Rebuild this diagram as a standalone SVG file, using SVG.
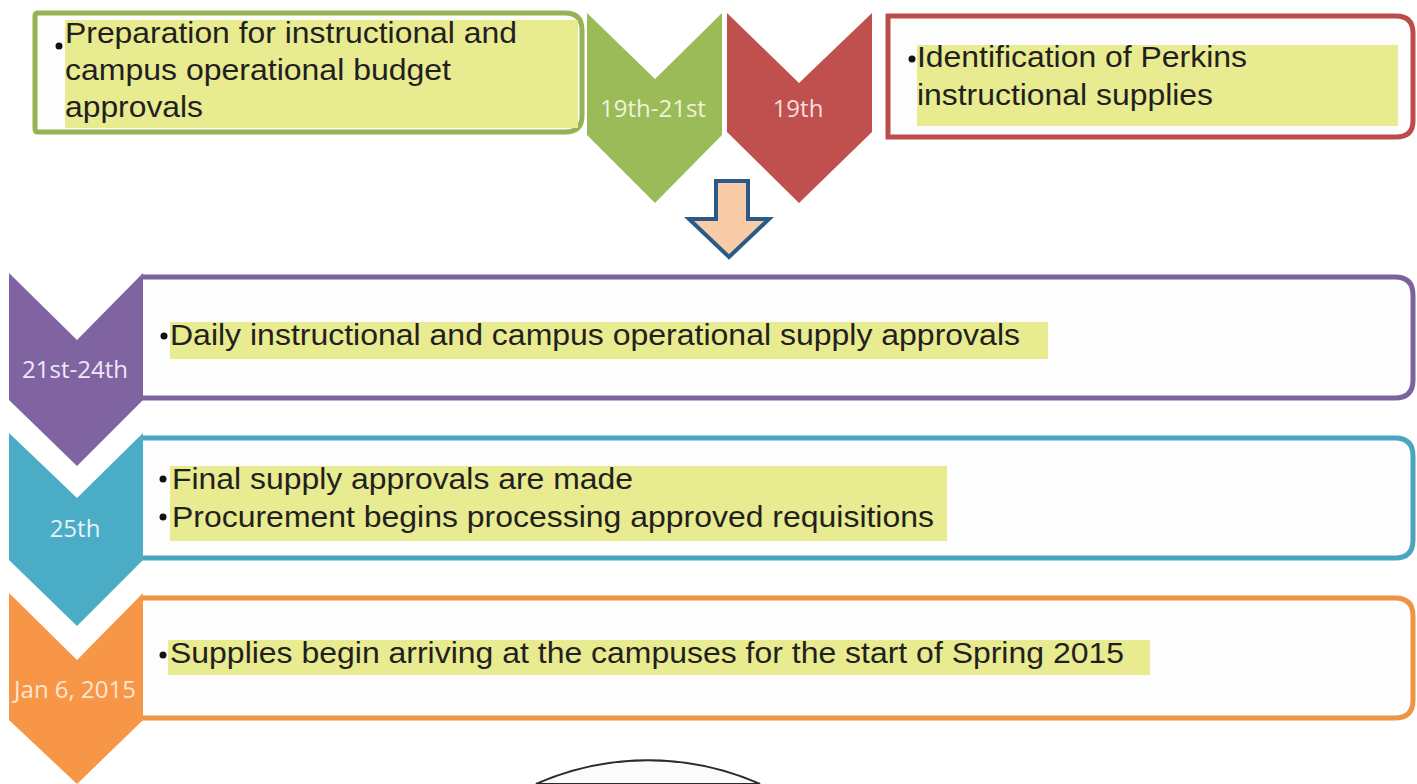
<svg xmlns="http://www.w3.org/2000/svg" width="1417" height="784" viewBox="0 0 1417 784">
<style>
.txt{font-family:"Liberation Sans",Arial,sans-serif;font-size:29px;fill:#231f20}
.lbl{font-family:"Open Sans","Liberation Sans",sans-serif;font-size:24px;text-anchor:middle}
.hl{fill:#e8eb8f}
.box{fill:#fefdfe;stroke-width:5}
.dot{fill:#111}
</style>
<rect width="1417" height="784" fill="#ffffff"/>
<g id="connectors">
<path d="M716 181 H748 V219 H769 L729 257 L689 219 H716 Z" fill="#f8cca6" stroke="#2b5988" stroke-width="4" stroke-linejoin="miter"/>
</g>
<g id="node-prep">
<path d="M38 13 H565 Q582 13 582 30 V116 Q582 132 565 132 H38 Q35 132 35 129 V16 Q35 13 38 13 Z" class="box" stroke="#95b355"/>
<rect x="65" y="20" width="513" height="108" class="hl"/>
<circle cx="59" cy="46" r="3.5" class="dot"/>
<text class="txt" x="65" y="43" textLength="452" lengthAdjust="spacingAndGlyphs">Preparation for instructional and</text>
<text class="txt" x="65" y="80" textLength="386" lengthAdjust="spacingAndGlyphs">campus operational budget</text>
<text class="txt" x="65" y="117" textLength="138" lengthAdjust="spacingAndGlyphs">approvals</text>
</g>
<g id="node-chev-green">
<polygon points="587,13 655,79 722,13 722,135 655,203 587,135" fill="#9bbb59"/>
<text class="lbl" x="653" y="117" fill="#eef3d8">19th-21st</text>
</g>
<g id="node-chev-red">
<polygon points="727,13 799,83 872,13 872,132 799,203 727,132" fill="#c0504d"/>
<text class="lbl" x="798" y="117" fill="#f5dfde">19th</text>
</g>
<g id="node-perkins">
<path d="M888 16 H1396 Q1413 16 1413 33 V121 Q1413 137 1396 137 H888 Z" class="box" stroke="#bb4c4a"/>
<rect x="917" y="45" width="481" height="81" class="hl"/>
<circle cx="912" cy="59" r="3.5" class="dot"/>
<text class="txt" x="917" y="67" textLength="330" lengthAdjust="spacingAndGlyphs">Identification of Perkins</text>
<text class="txt" x="917" y="105" textLength="296" lengthAdjust="spacingAndGlyphs">instructional supplies</text>
</g>
<g id="node-daily">
<path d="M141 277 H1395 Q1413 277 1413 295 V380 Q1413 398 1395 398 H141" class="box" stroke="#7d62a0"/>
<rect x="170" y="322" width="878" height="37" class="hl"/>
<circle cx="164" cy="336" r="3.5" class="dot"/>
<text class="txt" x="170" y="345" textLength="850" lengthAdjust="spacingAndGlyphs">Daily instructional and campus operational supply approvals</text>
</g>
<g id="node-chev-purple">
<polygon points="9,273 77,340 143,273 143,400 77,466 9,400" fill="#8064a2"/>
<text class="lbl" x="75" y="378" fill="#efe8f6">21st-24th</text>
</g>
<g id="node-final">
<path d="M141 438 H1395 Q1413 438 1413 456 V540 Q1413 558 1395 558 H141" class="box" stroke="#4aa6c0"/>
<rect x="170" y="466" width="777" height="75" class="hl"/>
<circle cx="163" cy="479" r="3.5" class="dot"/>
<circle cx="163" cy="517" r="3.5" class="dot"/>
<text class="txt" x="172" y="489" textLength="461" lengthAdjust="spacingAndGlyphs">Final supply approvals are made</text>
<text class="txt" x="172" y="527" textLength="762" lengthAdjust="spacingAndGlyphs">Procurement begins processing approved requisitions</text>
</g>
<g id="node-chev-teal">
<polygon points="9,433 77,498 143,433 143,560 77,626 9,560" fill="#4bacc6"/>
<text class="lbl" x="75" y="537" fill="#e4f4f9">25th</text>
</g>
<g id="node-supplies">
<path d="M141 598 H1395 Q1413 598 1413 616 V700 Q1413 718 1395 718 H141" class="box" stroke="#ee9445"/>
<rect x="168" y="640" width="982" height="35" class="hl"/>
<circle cx="163" cy="655" r="3.5" class="dot"/>
<text class="txt" x="170" y="663" textLength="954" lengthAdjust="spacingAndGlyphs">Supplies begin arriving at the campuses for the start of Spring 2015</text>
</g>
<g id="node-chev-orange">
<polygon points="9,593 77,660 143,593 143,720 77,784 9,720" fill="#f79646"/>
<text class="lbl" x="75" y="698" fill="#fde6d2">Jan 6, 2015</text>
</g>
<g id="node-circle">
<path d="M536 784 A276 276 0 0 1 760 784 Z" fill="#fbfbfb" stroke="#2a2a2a" stroke-width="2"/>
</g>
</svg>
